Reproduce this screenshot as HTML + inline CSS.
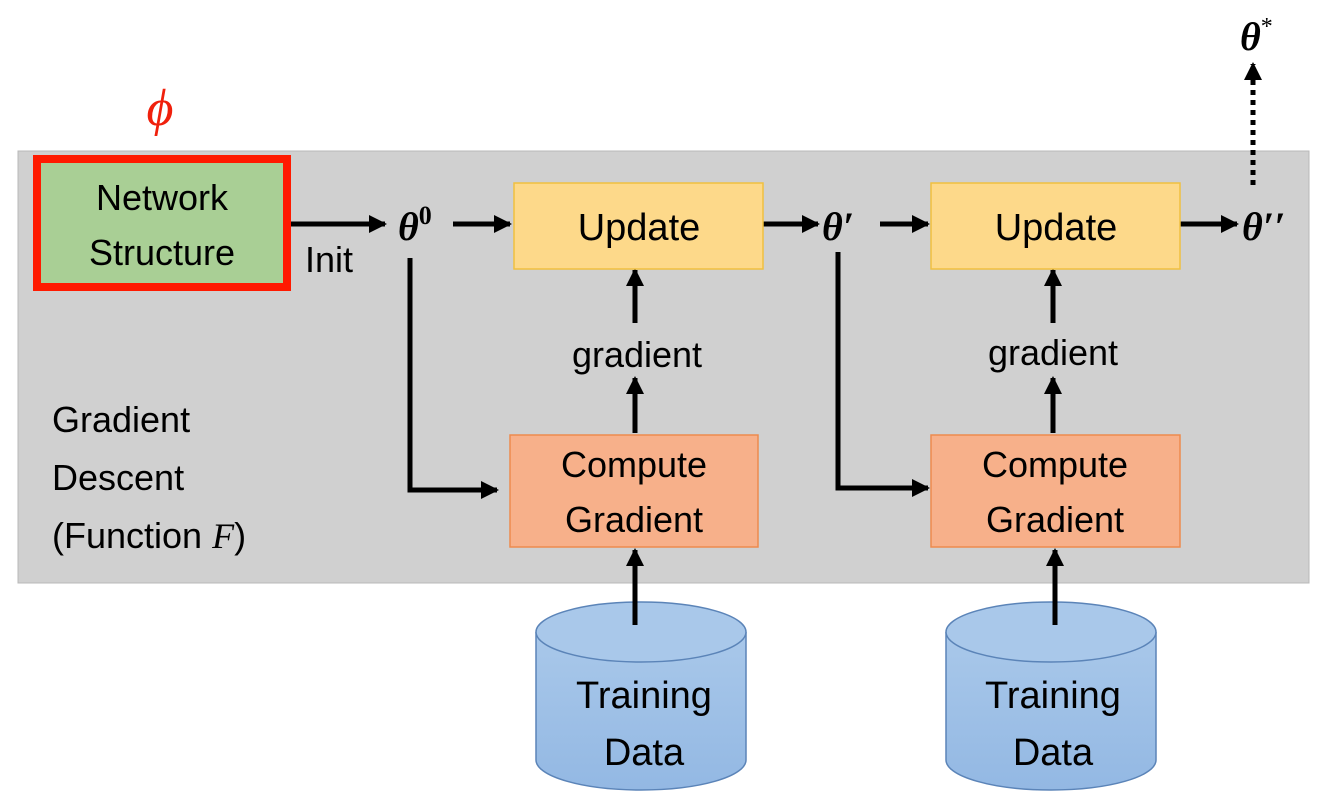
<!DOCTYPE html>
<html><head><meta charset="utf-8"><style>
html,body{margin:0;padding:0;background:#fff;}
svg{display:block;}
text{font-family:"Liberation Sans","DejaVu Sans",sans-serif;fill:#000;}
.m{font-family:"Liberation Serif","DejaVu Serif",serif;font-style:italic;font-weight:bold;}
</style></head><body>
<svg width="1343" height="792" viewBox="0 0 1343 792" xmlns="http://www.w3.org/2000/svg">
<defs>
<marker id="a" markerWidth="10" markerHeight="10" refX="8" refY="5" orient="auto" markerUnits="userSpaceOnUse">
<path d="M0,0 L10,5 L0,10 z" fill="#000"/></marker>
<marker id="b" markerWidth="18" markerHeight="18" refX="16" refY="9" orient="auto" markerUnits="userSpaceOnUse">
<path d="M0,0 L18,9 L0,18 z" fill="#000"/></marker>
<linearGradient id="cyl" x1="0" x2="0" y1="0" y2="1"><stop offset="0" stop-color="#a9c8ea"/><stop offset="1" stop-color="#93b8e3"/></linearGradient>
</defs>
<rect x="18" y="151" width="1291" height="432" fill="#d0d0d0" stroke="#b8b8b8"/>
<!-- phi -->
<text x="160" y="125" class="m" style="font-weight:normal;fill:#f0200c" font-size="52" text-anchor="middle">ϕ</text>
<!-- network box -->
<rect x="37" y="159" width="250" height="128" fill="#a9cf95" stroke="#ff1a00" stroke-width="8"/>
<text x="162" y="210" font-size="36" text-anchor="middle">Network</text>
<text x="162" y="265" font-size="36" text-anchor="middle">Structure</text>
<text x="305" y="272" font-size="36">Init</text>
<!-- top row arrows -->
<g stroke="#000" stroke-width="5" fill="none">
<line x1="291" y1="224" x2="385" y2="224" marker-end="url(#b)"/>
<line x1="453" y1="224" x2="510" y2="224" marker-end="url(#b)"/>
<line x1="763" y1="224" x2="818" y2="224" marker-end="url(#b)"/>
<line x1="880" y1="224" x2="928" y2="224" marker-end="url(#b)"/>
<line x1="1180" y1="224" x2="1237" y2="224" marker-end="url(#b)"/>
<line x1="1253" y1="185" x2="1253" y2="64" stroke-dasharray="5,5" marker-end="url(#b)"/>
<polyline points="410,258 410,490 497,490" marker-end="url(#b)"/>
<polyline points="838,252 838,488 928,488" marker-end="url(#b)"/>
<line x1="635" y1="323" x2="635" y2="270" marker-end="url(#b)"/>
<line x1="635" y1="433" x2="635" y2="378" marker-end="url(#b)"/>
<line x1="1053" y1="323" x2="1053" y2="270" marker-end="url(#b)"/>
<line x1="1053" y1="433" x2="1053" y2="378" marker-end="url(#b)"/>
<line x1="635" y1="625" x2="635" y2="550" marker-end="url(#b)"/>
<line x1="1055" y1="625" x2="1055" y2="550" marker-end="url(#b)"/>
</g>
<!-- thetas -->
<text x="398" y="240" class="m" font-size="40">θ<tspan font-size="26" dy="-16" style="font-style:normal">0</tspan></text>
<text x="822" y="240" class="m" font-size="40">θ′</text>
<text x="1242" y="240" class="m" font-size="40">θ′′</text>
<text x="1240" y="50" class="m" font-size="40">θ<tspan font-size="24" dy="-16" style="font-style:normal;font-weight:normal">*</tspan></text>
<!-- update boxes -->
<rect x="514" y="183" width="249" height="86" fill="#fdd98a" stroke="#f0c040" stroke-width="1.5"/>
<text x="639" y="240" font-size="38" text-anchor="middle">Update</text>
<rect x="931" y="183" width="249" height="86" fill="#fdd98a" stroke="#f0c040" stroke-width="1.5"/>
<text x="1056" y="240" font-size="38" text-anchor="middle">Update</text>
<text x="637" y="367" font-size="36" text-anchor="middle">gradient</text>
<text x="1053" y="365" font-size="36" text-anchor="middle">gradient</text>
<!-- compute boxes -->
<rect x="510" y="435" width="248" height="112" fill="#f7b08a" stroke="#ed8a4e" stroke-width="1.5"/>
<text x="634" y="477" font-size="36" text-anchor="middle">Compute</text>
<text x="634" y="532" font-size="36" text-anchor="middle">Gradient</text>
<rect x="931" y="435" width="249" height="112" fill="#f7b08a" stroke="#ed8a4e" stroke-width="1.5"/>
<text x="1055" y="477" font-size="36" text-anchor="middle">Compute</text>
<text x="1055" y="532" font-size="36" text-anchor="middle">Gradient</text>
<!-- left label -->
<text x="52" y="432" font-size="36">Gradient</text>
<text x="52" y="490" font-size="36">Descent</text>
<text x="52" y="548" font-size="36">(Function <tspan font-family="Liberation Serif" font-style="italic">F</tspan>)</text>
<!-- cylinders -->
<g stroke="#5b84b8" stroke-width="1.5">
<path d="M536,632 L536,760 A105,30 0 0 0 746,760 L746,632" fill="url(#cyl)"/>
<ellipse cx="641" cy="632" rx="105" ry="30" fill="#a9c8ea"/>
<path d="M946,632 L946,760 A105,30 0 0 0 1156,760 L1156,632" fill="url(#cyl)"/>
<ellipse cx="1051" cy="632" rx="105" ry="30" fill="#a9c8ea"/>
</g>
<line x1="635" y1="625" x2="635" y2="585" stroke="#000" stroke-width="5"/>
<line x1="1055" y1="625" x2="1055" y2="585" stroke="#000" stroke-width="5"/>
<text x="644" y="708" font-size="38" text-anchor="middle">Training</text>
<text x="644" y="765" font-size="38" text-anchor="middle">Data</text>
<text x="1053" y="708" font-size="38" text-anchor="middle">Training</text>
<text x="1053" y="765" font-size="38" text-anchor="middle">Data</text>
</svg>
</body></html>
